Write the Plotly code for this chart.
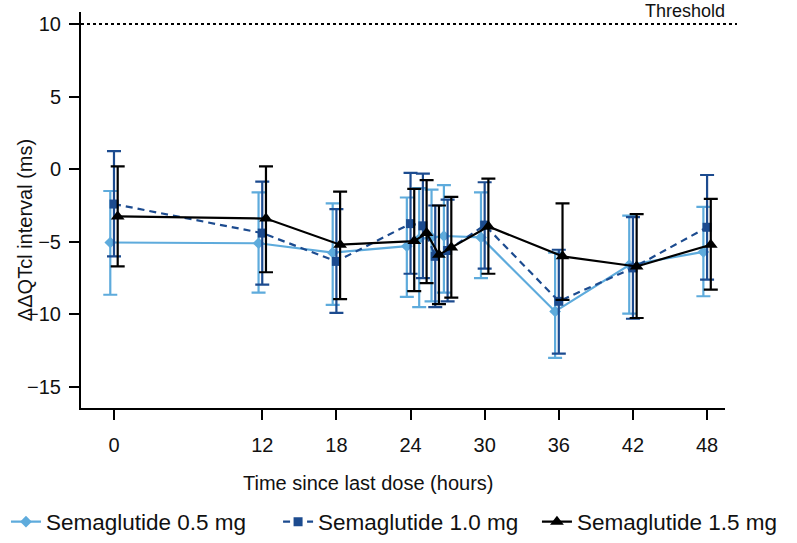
import plotly.graph_objects as go

# ---- data ----
times = [0, 12, 18, 24, 25, 26, 27, 30, 36, 42, 48]
x_ticks = [0, 12, 18, 24, 30, 36, 42, 48]
y_ticks = [-15, -10, -5, 0, 5, 10]
threshold = 10

names = ["Semaglutide 0.5 mg", "Semaglutide 1.0 mg", "Semaglutide 1.5 mg"]

mean_05 = [-5.05, -5.1, -5.75, -5.3, -4.8, -4.7, -4.6, -4.7, -9.8, -6.6, -5.7]
upper_05 = [-1.5, -1.6, -2.35, -1.95, -1.3, -1.4, -1.1, -1.6, -5.75, -3.2, -2.6]
lower_05 = [-8.65, -8.5, -9.35, -8.8, -9.5, -9.1, -8.5, -7.5, -13.0, -9.95, -8.75]

mean_10 = [-2.4, -4.4, -6.35, -3.75, -3.9, -6.0, -5.6, -3.85, -9.1, -6.8, -4.0]
upper_10 = [1.25, -0.85, -2.75, -0.25, -0.3, -2.5, -2.1, -0.9, -5.55, -3.3, -0.4]
lower_10 = [-6.0, -7.95, -9.9, -7.2, -7.5, -9.5, -9.1, -6.85, -12.7, -10.3, -7.6]

mean_15 = [-3.25, -3.4, -5.2, -4.95, -4.4, -5.9, -5.4, -3.95, -6.0, -6.7, -5.2]
upper_15 = [0.2, 0.2, -1.55, -1.35, -0.75, -2.5, -1.9, -0.65, -2.35, -3.1, -2.05]
lower_15 = [-6.7, -7.1, -8.95, -8.4, -7.85, -9.3, -8.85, -7.2, -9.0, -10.25, -8.3]

# ---- styling ----
FONT = "Liberation Sans, Arial, sans-serif"
colors = ["#5eabdc", "#1c4b8f", "#000000"]
symbols = ["diamond", "square", "triangle-up"]
msizes = [9, 9, 12]
dashes = ["solid", "7px,5px", "solid"]
offsets = [-0.3, 0.0, 0.3]
legends = ["legend", "legend2", "legend3"]

series = [(mean_05, upper_05, lower_05), (mean_10, upper_10, lower_10), (mean_15, upper_15, lower_15)]

fig = go.Figure()
for i, (m, up, lo) in enumerate(series):
    xs = [t + offsets[i] for t in times]
    fig.add_trace(go.Scatter(
        x=xs, y=m, name=names[i], mode="lines+markers",
        line=dict(color=colors[i], width=2.2, dash=dashes[i]),
        marker=dict(symbol=symbols[i], size=msizes[i], color=colors[i]),
        error_y=dict(type="data", symmetric=False,
                     array=[u - v for u, v in zip(up, m)],
                     arrayminus=[v - l for v, l in zip(m, lo)],
                     color=colors[i], thickness=2.2, width=7),
        legend=legends[i],
    ))

fig.add_shape(type="line", xref="paper", yref="y", x0=0, x1=1.0186,
              y0=threshold, y1=threshold,
              line=dict(color="black", width=2, dash="dot"))
fig.add_annotation(text="Threshold", xref="paper", yref="paper", x=1.003, y=1.0025,
                   xanchor="right", yanchor="middle", showarrow=False,
                   font=dict(family=FONT, size=18, color="#111"))

# axis titles
fig.add_annotation(text="Time since last dose (hours)", xref="paper", yref="paper",
                   x=0.446, y=-0.19, xanchor="center", yanchor="middle", showarrow=False,
                   font=dict(family=FONT, size=20, color="#111"))
fig.add_annotation(text="ΔΔQTcl interval (ms)", xref="paper", yref="paper",
                   x=-0.088, y=0.45, xanchor="center", yanchor="middle", showarrow=False,
                   textangle=-90, font=dict(family=FONT, size=20, color="#111"))

leg_common = dict(orientation="h", yanchor="middle", y=-0.288, xanchor="left",
                  font=dict(family=FONT, size=22.5, color="#111"),
                  bgcolor="rgba(0,0,0,0)", itemwidth=30)

fig.update_layout(
    width=797, height=543,
    margin=dict(l=81, r=72, t=12, b=135, autoexpand=False),
    plot_bgcolor="white", paper_bgcolor="white",
    font=dict(family=FONT, size=20, color="#111"),
    xaxis=dict(range=[-2.67, 49.45], tickmode="array", tickvals=x_ticks,
               showgrid=False, zeroline=False, showline=True, linecolor="black",
               linewidth=2, ticks="outside", ticklen=10, tickwidth=2, tickcolor="black",
               ticklabelstandoff=8, tickfont=dict(family=FONT, size=20, color="#111")),
    yaxis=dict(range=[-16.45, 10.83], tickmode="array", tickvals=y_ticks,
               showgrid=False, zeroline=False, showline=True, linecolor="black",
               linewidth=2, ticks="outside", ticklen=10, tickwidth=2, tickcolor="black",
               ticklabelstandoff=4, tickfont=dict(family=FONT, size=20, color="#111")),
    legend=dict(x=-0.1165, **leg_common),
    legend2=dict(x=0.306, **leg_common),
    legend3=dict(x=0.708, **leg_common),
    showlegend=True,
)

fig.write_html("out.html", config={"displayModeBar": False},
               post_script="document.body.style.margin='0px';document.body.style.padding='0px';")
